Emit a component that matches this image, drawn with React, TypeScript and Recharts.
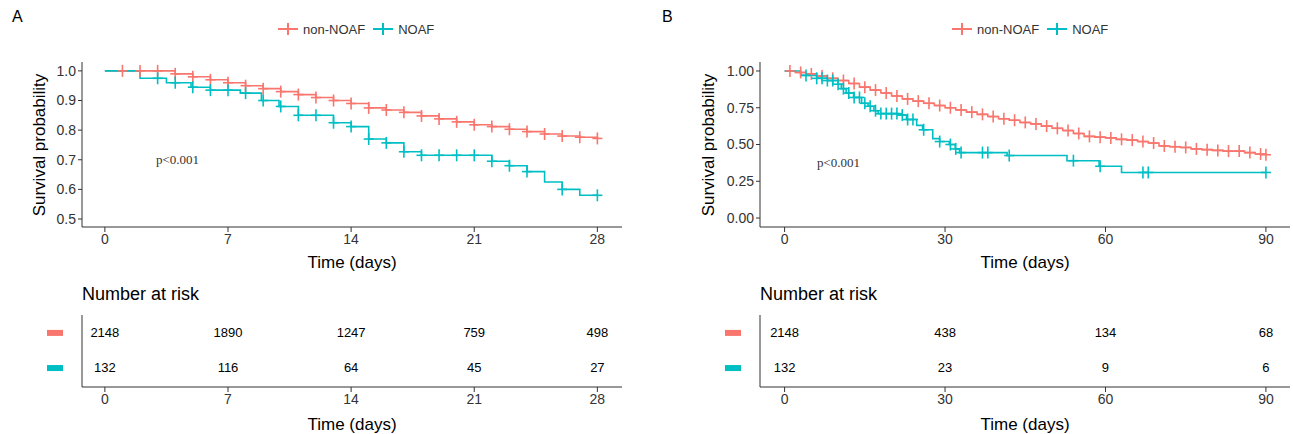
import React from "react";
import { ComposedChart, Line, Scatter, XAxis, YAxis } from "recharts";

const RED = "#F8766D";
const CYAN = "#00BFC4";
const INK = "#333333";

type Pt = { t: number; s: number };

// Panel A (28 days)
const aNonNoaf: Pt[] = [
  { t: 0, s: 1 }, { t: 4, s: 0.99 }, { t: 5, s: 0.98 }, { t: 6, s: 0.97 }, { t: 7, s: 0.96 },
  { t: 8, s: 0.95 }, { t: 9, s: 0.94 }, { t: 10, s: 0.93 }, { t: 11, s: 0.92 }, { t: 12, s: 0.91 },
  { t: 13, s: 0.9 }, { t: 14, s: 0.89 }, { t: 15, s: 0.875 }, { t: 16, s: 0.868 }, { t: 17, s: 0.86 },
  { t: 18, s: 0.848 }, { t: 19, s: 0.838 }, { t: 20, s: 0.828 }, { t: 21, s: 0.818 }, { t: 22, s: 0.812 },
  { t: 23, s: 0.803 }, { t: 24, s: 0.795 }, { t: 25, s: 0.787 }, { t: 26, s: 0.78 }, { t: 27, s: 0.776 },
  { t: 28, s: 0.772 },
];
const aNoaf: Pt[] = [
  { t: 0, s: 1 }, { t: 2, s: 0.975 }, { t: 3.5, s: 0.96 }, { t: 4.9, s: 0.945 }, { t: 6, s: 0.935 },
  { t: 7.7, s: 0.925 }, { t: 8.9, s: 0.9 }, { t: 9.9, s: 0.88 }, { t: 11, s: 0.85 }, { t: 13, s: 0.825 },
  { t: 14, s: 0.812 }, { t: 15, s: 0.77 }, { t: 16, s: 0.757 }, { t: 17, s: 0.727 }, { t: 18, s: 0.715 },
  { t: 22, s: 0.695 }, { t: 23, s: 0.68 }, { t: 24, s: 0.66 }, { t: 25, s: 0.625 }, { t: 26, s: 0.6 },
  { t: 27, s: 0.58 }, { t: 28, s: 0.58 },
];
const aNonNoafCens = [1, 2, 3, 4, 5, 6, 7, 8, 9, 10, 11, 12, 13, 14, 15, 16, 17, 18, 19, 20, 21, 22, 23, 24, 25, 26, 27, 28];
const aNoafCens = [3, 4, 5, 6, 7, 8, 9, 10, 11, 12, 13, 14, 15, 16, 17, 18, 19, 20, 21, 22, 23, 24, 26, 28];
const aTicks = [0, 7, 14, 21, 28];
const aRiskNon = [2148, 1890, 1247, 759, 498];
const aRiskNoaf = [132, 116, 64, 45, 27];

// Panel B (90 days)
const bNonNoaf: Pt[] = [
  { t: 0, s: 1 }, { t: 2, s: 0.99 }, { t: 4, s: 0.98 }, { t: 6, s: 0.965 }, { t: 8, s: 0.95 },
  { t: 10, s: 0.935 }, { t: 12, s: 0.915 }, { t: 14, s: 0.89 }, { t: 16, s: 0.87 }, { t: 18, s: 0.85 },
  { t: 20, s: 0.83 }, { t: 22, s: 0.81 }, { t: 24, s: 0.795 }, { t: 26, s: 0.78 }, { t: 28, s: 0.765 },
  { t: 30, s: 0.75 }, { t: 32, s: 0.735 }, { t: 34, s: 0.72 }, { t: 36, s: 0.705 }, { t: 38, s: 0.69 },
  { t: 40, s: 0.675 }, { t: 42, s: 0.665 }, { t: 44, s: 0.65 }, { t: 46, s: 0.64 }, { t: 48, s: 0.625 },
  { t: 50, s: 0.61 }, { t: 52, s: 0.595 }, { t: 54, s: 0.575 }, { t: 56, s: 0.555 }, { t: 58, s: 0.55 },
  { t: 60, s: 0.545 }, { t: 62, s: 0.535 }, { t: 64, s: 0.53 }, { t: 66, s: 0.52 }, { t: 68, s: 0.51 },
  { t: 70, s: 0.49 }, { t: 72, s: 0.485 }, { t: 74, s: 0.48 }, { t: 76, s: 0.47 }, { t: 78, s: 0.465 },
  { t: 80, s: 0.46 }, { t: 82, s: 0.455 }, { t: 84, s: 0.455 }, { t: 86, s: 0.445 }, { t: 88, s: 0.435 },
  { t: 90, s: 0.43 },
];
const bNoaf: Pt[] = [
  { t: 0, s: 1 }, { t: 3, s: 0.97 }, { t: 6, s: 0.95 }, { t: 8, s: 0.935 }, { t: 10, s: 0.91 },
  { t: 10.6, s: 0.88 }, { t: 11.5, s: 0.85 }, { t: 12.9, s: 0.82 }, { t: 14.4, s: 0.78 }, { t: 15.6, s: 0.76 },
  { t: 16.7, s: 0.73 }, { t: 17.5, s: 0.71 }, { t: 21.3, s: 0.7 }, { t: 22.8, s: 0.67 }, { t: 24.7, s: 0.63 },
  { t: 25.8, s: 0.6 }, { t: 27.7, s: 0.54 }, { t: 29, s: 0.52 }, { t: 30.8, s: 0.5 }, { t: 31.9, s: 0.47 },
  { t: 32.7, s: 0.445 }, { t: 41.6, s: 0.425 }, { t: 52.8, s: 0.39 }, { t: 58.8, s: 0.352 }, { t: 63, s: 0.31 },
  { t: 90, s: 0.31 },
];
const bNonNoafCens = [1, 3, 5, 7, 9, 11, 13, 15, 17, 19, 21, 23, 25, 27, 29, 31, 33, 35, 37, 39, 41, 43, 45, 47, 49, 51, 53, 55, 57, 59, 61, 63, 65, 67, 69, 71, 73, 75, 77, 79, 81, 83, 85, 87, 89, 90];
const bNoafCens = [4, 6, 7, 8, 9, 10, 11, 12, 13, 14, 15, 16, 17, 18, 19, 20, 21, 22, 23, 24, 26, 29, 31, 32, 33, 37, 38, 42, 54, 59, 67, 68, 90];
const bTicks = [0, 30, 60, 90];
const bRiskNon = [2148, 438, 134, 68];
const bRiskNoaf = [132, 23, 9, 6];

const surv = (curve: Pt[], t: number) => {
  let s = curve[0].s;
  for (const p of curve) if (p.t <= t) s = p.s;
  return s;
};
const cens = (curve: Pt[], times: number[]) => times.map((t) => ({ t, s: surv(curve, t) }));

const Plus = (color: string) => (props: any) => {
  const { cx, cy } = props;
  return (
    <g stroke={color} strokeWidth={1.6}>
      <line x1={cx - 5} x2={cx + 5} y1={cy} y2={cy} />
      <line x1={cx} x2={cx} y1={cy - 6} y2={cy + 6} />
    </g>
  );
};

const FONT = "Liberation Sans, Arial";
const tickStyle = { fontSize: 14, fill: INK, fontFamily: FONT };

type PanelProps = {
  left: number;
  width: number;
  marginLeft: number;
  marginRight: number;
  domain: [number, number];
  yDomain: [number, number];
  yTicks: number[];
  yFmt: (v: number) => string;
  ticks: number[];
  non: Pt[];
  noaf: Pt[];
  nonCens: number[];
  noafCens: number[];
  riskNon: number[];
  riskNoaf: number[];
  label: string;
  pX: number;
  pY: number;
  legendX: number;
  yLabX: number;
};

function Panel(p: PanelProps) {
  const axisLeft = p.left + p.marginLeft + 40;
  const rows = [
    { row: 2, color: RED },
    { row: 1, color: CYAN },
  ];
  const riskPts = [
    ...p.ticks.map((t, i) => ({ t, r: 2, v: p.riskNon[i] })),
    ...p.ticks.map((t, i) => ({ t, r: 1, v: p.riskNoaf[i] })),
  ];
  return (
    <>
      <div style={{ position: "absolute", left: p.left + 12, top: 8, fontSize: 16, fontFamily: FONT }}>{p.label}</div>
      <div style={{ position: "absolute", left: p.legendX, top: 21, display: "flex", alignItems: "center", fontSize: 13, fontFamily: FONT, color: INK }}>
        {[["non-NOAF", RED], ["NOAF", CYAN]].map(([n, c]) => (
          <span key={n} style={{ display: "flex", alignItems: "center", marginRight: 6 }}>
            <svg width={24} height={16}>
              <line x1={2} x2={22} y1={8} y2={8} stroke={c} strokeWidth={2} />
              <line x1={12} x2={12} y1={2} y2={14} stroke={c} strokeWidth={2} />
            </svg>
            <span style={{ marginLeft: 3 }}>{n}</span>
          </span>
        ))}
      </div>
      <div style={{ position: "absolute", left: p.yLabX - 90, top: 135, width: 180, textAlign: "center", whiteSpace: "nowrap", transform: "rotate(-90deg)", fontSize: 17, lineHeight: "20px", fontFamily: FONT, color: "#000" }}>
        Survival probability
      </div>
      <div style={{ position: "absolute", left: p.left + p.pX, top: p.pY, fontSize: 13, fontFamily: "Liberation Serif, serif", color: INK }}>p&lt;0.001</div>
      <div style={{ position: "absolute", left: p.left, top: 0 }}>
        <ComposedChart width={p.width} height={280} margin={{ top: 62, right: p.marginRight, bottom: 3, left: p.marginLeft }}>
          <XAxis type="number" dataKey="t" domain={p.domain} ticks={p.ticks} allowDataOverflow tick={tickStyle} stroke={INK} tickSize={5} height={50}
            label={{ value: "Time (days)", position: "insideBottom", offset: 9, style: { fontSize: 17, fill: "#000", fontFamily: FONT } }} />
          <YAxis type="number" dataKey="s" domain={p.yDomain} ticks={p.yTicks} allowDataOverflow tickFormatter={p.yFmt} tick={tickStyle} stroke={INK} tickSize={4} width={40} />
          <Line data={p.non} dataKey="s" type="stepAfter" stroke={RED} strokeWidth={1.6} dot={false} isAnimationActive={false} />
          <Line data={p.noaf} dataKey="s" type="stepAfter" stroke={CYAN} strokeWidth={1.6} dot={false} isAnimationActive={false} />
          <Scatter data={cens(p.non, p.nonCens)} dataKey="s" shape={Plus(RED)} isAnimationActive={false} />
          <Scatter data={cens(p.noaf, p.noafCens)} dataKey="s" shape={Plus(CYAN)} isAnimationActive={false} />
        </ComposedChart>
      </div>
      <div style={{ position: "absolute", left: axisLeft, top: 284, fontSize: 18, fontFamily: FONT, color: "#000" }}>Number at risk</div>
      <div style={{ position: "absolute", left: p.left, top: 280 }}>
        <ComposedChart width={p.width} height={154} margin={{ top: 35, right: p.marginRight, bottom: 2, left: p.marginLeft }}>
          <XAxis type="number" dataKey="t" domain={p.domain} ticks={p.ticks} allowDataOverflow tick={tickStyle} stroke={INK} tickSize={5} height={45}
            label={{ value: "Time (days)", position: "insideBottom", offset: 2, style: { fontSize: 17, fill: "#000", fontFamily: FONT } }} />
          <YAxis type="number" dataKey="r" domain={[0.46, 2.51]} ticks={[1, 2]} allowDataOverflow stroke={INK} tickLine={false} width={40}
            tick={(tp: any) => {
              const c = rows.find((r) => r.row === tp.payload.value)?.color;
              return <rect x={tp.x - 27} y={tp.y - 3} width={16} height={6} fill={c} />;
            }} />
          <Scatter data={riskPts} dataKey="r" isAnimationActive={false}
            shape={(sp: any) => (
              <text x={sp.cx} y={sp.cy + 4} textAnchor="middle" style={{ fontSize: 13, fill: "#000", fontFamily: FONT }}>{sp.payload.v}</text>
            )} />
        </ComposedChart>
      </div>
    </>
  );
}

export default function App() {
  return (
    <div style={{ position: "absolute", left: 0, top: 0, width: 1293, height: 434, background: "#fff" }}>
      <Panel left={0} width={640} marginLeft={42} marginRight={18} domain={[-1.3, 29.4]} yDomain={[0.473, 1.03]}
        yTicks={[0.5, 0.6, 0.7, 0.8, 0.9, 1.0]} yFmt={(v) => v.toFixed(1)} ticks={aTicks}
        non={aNonNoaf} noaf={aNoaf} nonCens={aNonNoafCens} noafCens={aNoafCens}
        riskNon={aRiskNon} riskNoaf={aRiskNoaf} label="A" pX={156} pY={152} legendX={276} yLabX={40} />
      <Panel left={650} width={643} marginLeft={70} marginRight={3} domain={[-4.6, 94.5]} yDomain={[-0.061, 1.061]}
        yTicks={[0, 0.25, 0.5, 0.75, 1.0]} yFmt={(v) => v.toFixed(2)} ticks={bTicks}
        non={bNonNoaf} noaf={bNoaf} nonCens={bNonNoafCens} noafCens={bNoafCens}
        riskNon={bRiskNon} riskNoaf={bRiskNoaf} label="B" pX={167} pY={155} legendX={950} yLabX={709} />
    </div>
  );
}
